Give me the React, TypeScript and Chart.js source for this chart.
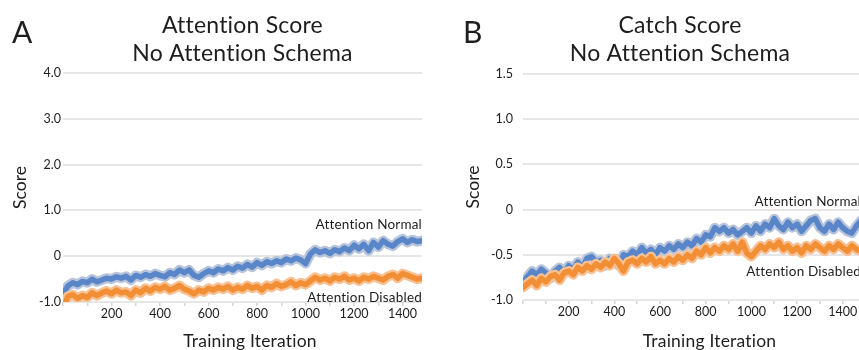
import React, { useEffect, useRef } from "react";
import { Chart, registerables } from "chart.js";

Chart.register(...registerables);

const FONT = "Lato, 'Open Sans', sans-serif";

// Training iterations (x values)
const iterations = [
  0, 20, 40, 60, 80, 100, 120, 140, 160, 180,
  200, 220, 240, 260, 280, 300, 320, 340, 360, 380,
  400, 420, 440, 460, 480, 500, 520, 540, 560, 580,
  600, 620, 640, 660, 680, 700, 720, 740, 760, 780,
  800, 820, 840, 860, 880, 900, 920, 940, 960, 980,
  1000, 1020, 1040, 1060, 1080, 1100, 1120, 1140, 1160, 1180,
  1200, 1220, 1240, 1260, 1280, 1300, 1320, 1340, 1360, 1380,
  1400, 1420, 1440, 1460, 1480,
];

// Panel A: Attention Score, No Attention Schema
const attnScoreNormal = [
  -0.82, -0.65, -0.58, -0.62, -0.55, -0.58, -0.50, -0.56, -0.52, -0.48,
  -0.50, -0.45, -0.48, -0.44, -0.52, -0.42, -0.46, -0.40, -0.44, -0.38,
  -0.42, -0.45, -0.36, -0.40, -0.30, -0.36, -0.30, -0.42, -0.46, -0.38,
  -0.32, -0.36, -0.28, -0.32, -0.25, -0.30, -0.22, -0.26, -0.18, -0.24,
  -0.14, -0.20, -0.12, -0.16, -0.10, -0.14, -0.06, -0.10, -0.04, -0.08,
  -0.16, 0.05, 0.14, 0.08, 0.12, 0.06, 0.14, 0.10, 0.18, 0.12,
  0.24, 0.16, 0.26, 0.12, 0.30, 0.20, 0.34, 0.26, 0.22, 0.32,
  0.38, 0.30, 0.36, 0.32, 0.34,
];
const attnScoreDisabled = [
  -1.15, -0.88, -0.84, -0.92, -0.86, -0.90, -0.80, -0.86, -0.80, -0.76,
  -0.82, -0.74, -0.80, -0.78, -0.86, -0.74, -0.80, -0.70, -0.76, -0.68,
  -0.72, -0.66, -0.74, -0.70, -0.64, -0.72, -0.76, -0.82, -0.74, -0.78,
  -0.70, -0.74, -0.68, -0.72, -0.66, -0.74, -0.68, -0.72, -0.64, -0.70,
  -0.66, -0.74, -0.64, -0.68, -0.60, -0.66, -0.62, -0.56, -0.64, -0.58,
  -0.62, -0.54, -0.46, -0.52, -0.48, -0.54, -0.46, -0.50, -0.44, -0.52,
  -0.48, -0.54, -0.46, -0.50, -0.44, -0.48, -0.52, -0.44, -0.40, -0.48,
  -0.38, -0.42, -0.46, -0.50, -0.48,
];

// Panel B: Catch Score, No Attention Schema
const catchScoreNormal = [
  -0.80, -0.74, -0.68, -0.72, -0.66, -0.70, -0.76, -0.68, -0.64, -0.70,
  -0.62, -0.66, -0.58, -0.64, -0.54, -0.52, -0.58, -0.56, -0.62, -0.54,
  -0.58, -0.62, -0.50, -0.52, -0.46, -0.50, -0.42, -0.48, -0.44, -0.50,
  -0.42, -0.46, -0.40, -0.44, -0.38, -0.42, -0.36, -0.40, -0.32, -0.36,
  -0.28, -0.30, -0.20, -0.24, -0.20, -0.26, -0.22, -0.28, -0.24, -0.20,
  -0.26, -0.18, -0.24, -0.16, -0.20, -0.10, -0.18, -0.22, -0.14, -0.20,
  -0.16, -0.24, -0.18, -0.12, -0.10, -0.20, -0.24, -0.16, -0.22, -0.14,
  -0.20, -0.24, -0.26, -0.18, -0.12,
];
const catchScoreDisabled = [
  -0.86, -0.82, -0.78, -0.84, -0.76, -0.80, -0.74, -0.72, -0.78, -0.70,
  -0.68, -0.72, -0.64, -0.68, -0.62, -0.66, -0.60, -0.64, -0.58, -0.62,
  -0.54, -0.60, -0.68, -0.58, -0.56, -0.60, -0.54, -0.58, -0.52, -0.60,
  -0.56, -0.60, -0.54, -0.58, -0.52, -0.56, -0.50, -0.54, -0.46, -0.50,
  -0.42, -0.48, -0.42, -0.46, -0.40, -0.44, -0.38, -0.46, -0.36, -0.48,
  -0.52, -0.46, -0.40, -0.44, -0.38, -0.42, -0.36, -0.44, -0.40, -0.46,
  -0.42, -0.48, -0.40, -0.44, -0.38, -0.42, -0.46, -0.40, -0.44, -0.38,
  -0.42, -0.46, -0.40, -0.44, -0.46,
];

const BLUE = "rgb(88,134,200)";
const BLUE_BAND = "rgb(184,196,218)";
const ORANGE = "rgb(242,142,52)";
const ORANGE_BAND = "rgb(248,193,148)";
const TEXT = "#1e1e1e";

const panelTextPlugin = {
  id: "panelText",
  afterDraw(chart: any, _args: any, opts: any) {
    const { ctx, scales } = chart;
    ctx.save();
    ctx.fillStyle = TEXT;
    ctx.textBaseline = "alphabetic";
    ctx.textAlign = "left";
    ctx.font = `30px ${FONT}`;
    ctx.fillText(opts.letter, opts.letterX, opts.letterY);
    // a tiny letter spacing keeps the "ti" pairs as separate glyphs
    (ctx as any).letterSpacing = "0.2px";
    ctx.textAlign = "center";
    ctx.font = `23px ${FONT}`;
    opts.title.forEach((t: string, i: number) =>
      ctx.fillText(t, opts.titleX, opts.titleY + i * opts.titleLH)
    );
    ctx.font = `17.5px ${FONT}`;
    ctx.fillText(opts.xTitle, opts.xTitleX, opts.xTitleY);
    ctx.textAlign = "right";
    ctx.font = `13.5px ${FONT}`;
    for (const l of opts.labels) {
      ctx.fillText(l.text, scales.x.getPixelForValue(l.x), scales.y.getPixelForValue(l.y));
    }
    ctx.restore();
  },
};

type PanelSpec = {
  normal: number[];
  disabled: number[];
  yMin: number;
  yMax: number;
  yStep: number;
  topPad: number;
  rightPad: number;
  yWidth: number;
  xHeight: number;
  yTickPad: number;
  yTitlePad: number;
  text: any;
};

function makeConfig(p: PanelSpec): any {
  const pts = (arr: number[]) => iterations.map((x, i) => ({ x, y: arr[i] }));
  const line = (label: string, arr: number[], color: string, width: number, order: number) => ({
    label,
    data: pts(arr),
    borderColor: color,
    backgroundColor: color,
    borderWidth: width,
    pointRadius: 0,
    tension: 0,
    fill: false,
    borderJoinStyle: "round",
    borderCapStyle: "round",
    order,
  });
  return {
    type: "line",
    data: {
      datasets: [
        line("Attention Disabled", p.disabled, ORANGE, 5.5, 0),
        line("Attention Disabled (spread)", p.disabled, ORANGE_BAND, 10, 1),
        line("Attention Normal", p.normal, BLUE, 5.5, 2),
        line("Attention Normal (spread)", p.normal, BLUE_BAND, 10, 3),
      ],
    },
    options: {
      responsive: false,
      animation: false,
      layout: { padding: { top: p.topPad, right: p.rightPad, left: 0, bottom: 0 } },
      plugins: {
        legend: { display: false },
        tooltip: { enabled: false },
        title: { display: false },
        panelText: p.text,
      },
      scales: {
        x: {
          type: "linear",
          min: 0,
          max: 1480,
          afterFit: (s: any) => {
            s.height = p.xHeight;
          },
          ticks: {
            stepSize: 100,
            includeBounds: false,
            autoSkip: false,
            maxRotation: 0,
            padding: 0,
            color: TEXT,
            font: { family: FONT, size: 12.5 },
            callback: (v: any) => (v > 0 && v % 200 === 0 ? String(v) : ""),
          },
          grid: {
            drawOnChartArea: false,
            drawTicks: true,
            tickLength: 4,
            color: "#d6d6d6",
            lineWidth: 1.5,
          },
          border: { display: false },
        },
        y: {
          min: p.yMin,
          max: p.yMax,
          afterFit: (s: any) => {
            s.width = p.yWidth;
          },
          ticks: {
            stepSize: p.yStep,
            padding: p.yTickPad,
            color: TEXT,
            font: { family: FONT, size: 12.5 },
            callback: (v: any) => (Number(v) === 0 ? "0" : Number(v).toFixed(1)),
          },
          grid: { color: "#e6e6e6", lineWidth: 2, drawTicks: false },
          border: { display: false },
          title: {
            display: true,
            text: "Score",
            color: TEXT,
            font: { family: FONT, size: 17.5 },
            padding: { top: p.yTitlePad, bottom: 0 },
          },
        },
      },
    },
    plugins: [panelTextPlugin],
  };
}

const panelA: PanelSpec = {
  normal: attnScoreNormal,
  disabled: attnScoreDisabled,
  yMin: -1,
  yMax: 4,
  yStep: 1,
  topPad: 73,
  rightPad: 18,
  yWidth: 63,
  xHeight: 48,
  yTickPad: 2,
  yTitlePad: 10,
  text: {
    letter: "A",
    letterX: 12,
    letterY: 43,
    title: ["Attention Score", "No Attention Schema"],
    titleX: 242.5,
    titleY: 33,
    titleLH: 28,
    xTitle: "Training Iteration",
    xTitleX: 250,
    xTitleY: 346.5,
    labels: [
      { text: "Attention Normal", x: 1480, y: 0.59 },
      { text: "Attention Disabled", x: 1480, y: -1.01 },
    ],
  },
};

const panelB: PanelSpec = {
  normal: catchScoreNormal,
  disabled: catchScoreDisabled,
  yMin: -1,
  yMax: 1.5,
  yStep: 0.5,
  topPad: 74,
  rightPad: 19,
  yWidth: 83,
  xHeight: 50,
  yTickPad: 10,
  yTitlePad: 23,
  text: {
    letter: "B",
    letterX: 23,
    letterY: 43,
    title: ["Catch Score", "No Attention Schema"],
    titleX: 240,
    titleY: 33,
    titleLH: 28,
    xTitle: "Training Iteration",
    xTitleX: 269.5,
    xTitleY: 346.5,
    labels: [
      { text: "Attention Normal", x: 1480, y: 0.044 },
      { text: "Attention Disabled", x: 1480, y: -0.74 },
    ],
  },
};

function Panel({ spec, left }: { spec: PanelSpec; left: number }) {
  const ref = useRef<HTMLCanvasElement>(null);
  useEffect(() => {
    const chart = new Chart(ref.current as HTMLCanvasElement, makeConfig(spec));
    return () => chart.destroy();
  }, [spec]);
  return (
    <div style={{ position: "absolute", left, top: 0, width: 440, height: 350 }}>
      <canvas ref={ref} width={440} height={350} style={{ display: "block", width: 440, height: 350 }} />
    </div>
  );
}

export default function App() {
  return (
    <div
      style={{
        position: "fixed",
        left: 0,
        top: 0,
        width: 859,
        height: 350,
        overflow: "hidden",
        background: "#ffffff",
      }}
    >
      <Panel spec={panelA} left={0} />
      <Panel spec={panelB} left={440} />
    </div>
  );
}
